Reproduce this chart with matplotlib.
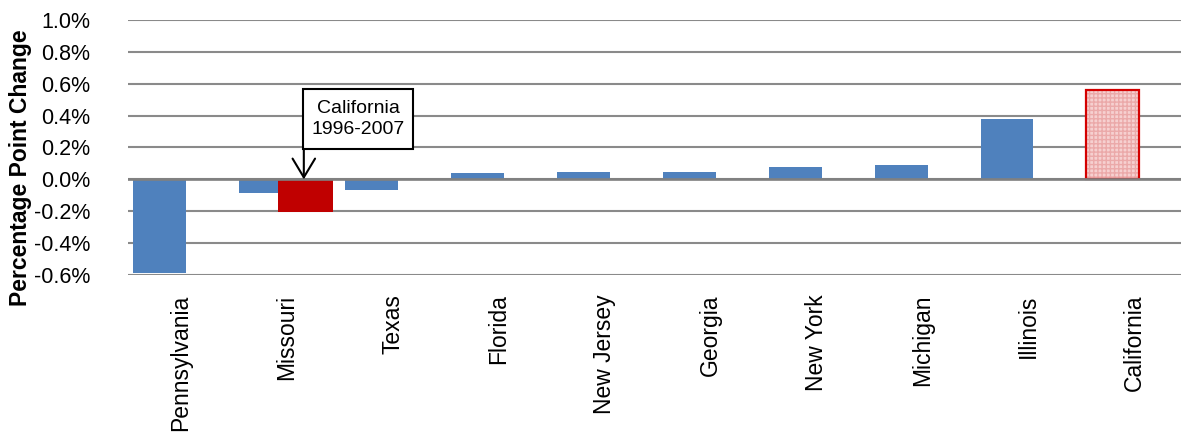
import matplotlib
matplotlib.use("Agg")
import matplotlib.pyplot as plt
import numpy as np

plt.rcParams['font.family'] = ['Liberation Sans', 'DejaVu Sans']

# percentage point change by state
states = ["Pennsylvania", "Missouri", "Texas", "Florida", "New Jersey",
          "Georgia", "New York", "Michigan", "Illinois", "California"]
changes = [-0.59, -0.085, -0.067, 0.038, 0.044, 0.048, 0.077, 0.093, 0.376, 0.56]

# California 1996-2007 comparison bar (sits in the Missouri slot)
ca_period_label = "California\n1996-2007"
ca_period_value = -0.205
ca_period_slot = 1

yticks = [-0.6, -0.4, -0.2, 0.0, 0.2, 0.4, 0.6, 0.8, 1.0]

blue = '#4F81BD'
red = '#C00000'
grid_col = '#8A8A8A'

fig = plt.figure(figsize=(11.81, 4.34), dpi=100)
ax = fig.add_axes([0.1084, 0.3664, 0.8967, 0.5875])

x = np.arange(len(states))
bar_x = x - 0.2

# regular states in blue, last one (California) hatched
ax.bar(bar_x[:-1], changes[:-1], width=0.5, color=blue, zorder=3)
ax.bar(bar_x[-1], changes[-1], width=0.5, facecolor='#F6D0D0',
       edgecolor='#EBA9A9', hatch='++++', linewidth=0, zorder=3)
ax.bar(bar_x[-1], changes[-1], width=0.5, fill=False,
       edgecolor='#D40000', linewidth=1.6, zorder=4)

ax.bar(ca_period_slot + 0.176, ca_period_value, width=0.52, color=red, zorder=4)

# annotation box + arrow
tip_x = ca_period_slot + 0.16
ax.annotate("", xy=(tip_x, 0.0), xytext=(tip_x, 0.19),
            arrowprops=dict(arrowstyle='->,head_length=0.45,head_width=0.27',
                            color='black', lw=1.5, mutation_scale=30,
                            shrinkA=0, shrinkB=0),
            zorder=6)
ax.add_patch(plt.Rectangle((1.152, 0.19), 1.04, 0.38, fill=True,
                           facecolor='white', edgecolor='black', lw=1.5,
                           zorder=6, clip_on=False))
ax.text(1.672, 0.38, ca_period_label, ha='center', va='center',
        fontsize=14, linespacing=1.3, zorder=7)

ax.set_xlim(-0.5, 9.5)
ax.set_ylim(-0.6, 1.0)
ax.set_yticks(yticks)
ax.set_yticklabels(["%.1f%%" % v for v in yticks], fontsize=15.5)
ax.set_xticks(x)
ax.set_xticklabels(states, rotation=90, fontsize=16.5)
ax.tick_params(axis='both', length=0)
ax.tick_params(axis='y', pad=27)
ax.tick_params(axis='x', pad=14)

for sp in ax.spines.values():
    sp.set_visible(False)
ax.grid(axis='y', color=grid_col, lw=1.5, zorder=0)
ax.axhline(0, color='#808080', lw=1.9, zorder=5)

ax.set_ylabel("Percentage Point Change", fontsize=16.5, fontweight='bold')
ax.yaxis.set_label_coords(-0.091, 0.42)

fig.savefig("out.png", dpi=100)
